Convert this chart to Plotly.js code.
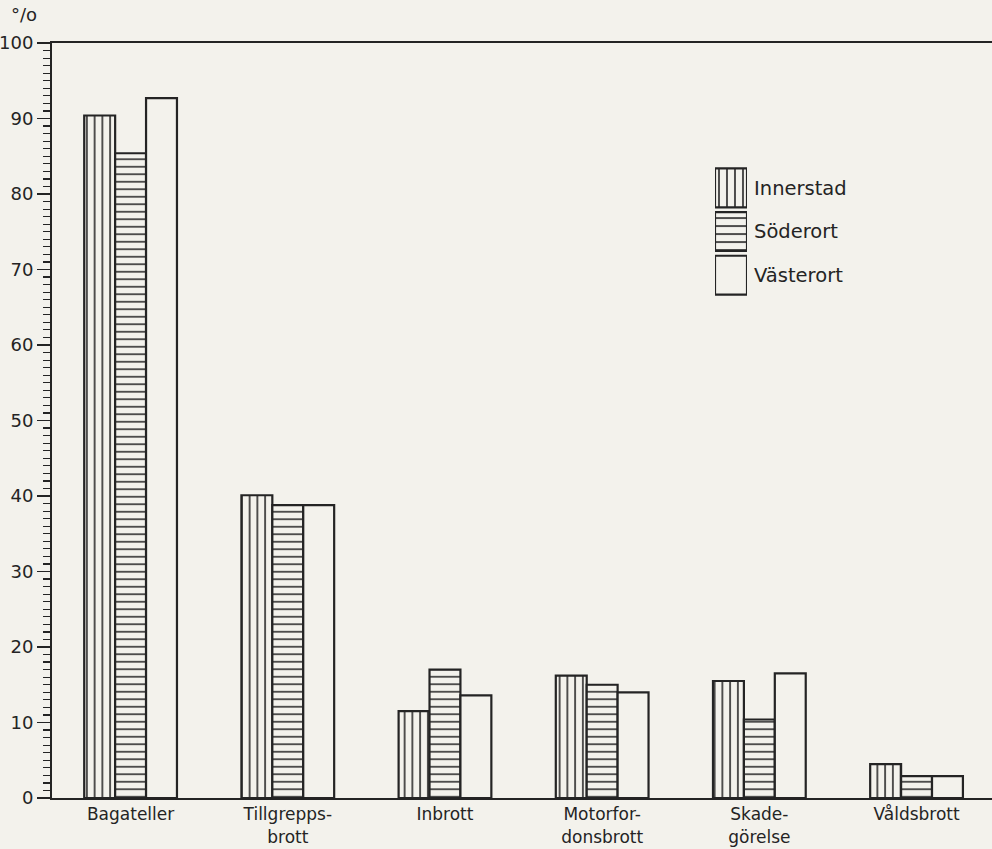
<!DOCTYPE html>
<html>
<head>
<meta charset="utf-8">
<script src="https://cdn.plot.ly/plotly-3.0.1.min.js"></script>
<style>
  html, body { margin: 0; padding: 0; background: #f3f2ec; }
  #chart { width: 992px; height: 849px; }
</style>
</head>
<body>
<div id="chart"></div>
<script>
const categories = ["Bagateller", "Tillgrepps-<br>brott", "Inbrott", "Motorfor-<br>donsbrott", "Skade-<br>görelse", "Våldsbrott"];
const seriesNames = ["Innerstad", "Söderort", "Västerort"];
const innerstad = [90.4, 40.1, 11.5, 16.2, 15.5, 4.5];
const soderort  = [85.4, 38.8, 17.0, 15.0, 10.4, 2.9];
const vasterort = [92.7, 38.8, 13.6, 14.0, 16.5, 2.9];
const yTickVals = [0, 10, 20, 30, 40, 50, 60, 70, 80, 90, 100];

const BG = "#f3f2ec";
const INK = "#242424";
const FONT = "DejaVu Sans, sans-serif";

const shapes = ["|", "-", ""];
const sizes = [7.75, 7.5, 8];
const values = [innerstad, soderort, vasterort];

function pat(i) {
  return {shape: shapes[i], size: sizes[i], solidity: 0.2, fgcolor: INK, bgcolor: BG, fillmode: "replace"};
}

const traces = values.map((v, i) => ({
  type: "bar",
  name: seriesNames[i],
  x: categories,
  y: v,
  xaxis: "x", yaxis: "y",
  marker: {color: BG, line: {color: INK, width: 2.2}, pattern: pat(i)},
  showlegend: false,
  hoverinfo: "skip"
}));

// legend drawn as a small horizontal bar panel, labelled with the series names
traces.push({
  type: "bar",
  orientation: "h",
  y: seriesNames,
  x: seriesNames.map(() => 1),
  width: 0.89,
  xaxis: "x2", yaxis: "y2",
  marker: {
    color: BG,
    line: {color: INK, width: 2.2},
    pattern: {
      shape: shapes,
      size: 8,
      solidity: 0.2,
      fgcolor: INK, bgcolor: BG, fillmode: "replace"
    }
  },
  showlegend: false,
  hoverinfo: "skip"
});

const layout = {
  width: 992,
  height: 849,
  paper_bgcolor: BG,
  plot_bgcolor: BG,
  margin: {l: 52, r: 0, t: 43, b: 51},
  barmode: "group",
  bargap: 0.41,
  bargroupgap: 0,
  font: {family: FONT, color: INK, size: 17},
  showlegend: false,
  xaxis: {
    type: "category",
    range: [-0.5, 5.48],
    showline: true, linecolor: INK, linewidth: 2, mirror: true,
    ticks: "", showgrid: false, zeroline: false,
    tickfont: {family: FONT, size: 17, color: INK},
    ticklabelstandoff: 0,
    automargin: false
  },
  yaxis: {
    range: [0, 100],
    tickvals: yTickVals,
    ticks: "outside", ticklen: 13, tickwidth: 1.5, tickcolor: INK,
    minor: {dtick: 1, ticks: "outside", ticklen: 7, tickwidth: 1.2, tickcolor: INK, showgrid: false},
    showline: true, linecolor: INK, linewidth: 2,
    showgrid: false, zeroline: false,
    tickfont: {family: FONT, size: 18, color: INK},
    automargin: false
  },
  xaxis2: {
    domain: [0.7053, 0.7394],
    range: [0, 1],
    anchor: "y2",
    visible: false,
    fixedrange: true
  },
  yaxis2: {
    domain: [0.6636, 0.837],
    type: "category",
    range: [2.5, -0.5],
    anchor: "x2",
    side: "right",
    ticks: "",
    showline: false, showgrid: false, zeroline: false,
    tickfont: {family: FONT, size: 19.5, color: INK},
    ticklabelstandoff: 6,
    automargin: false
  },
  annotations: [{
    text: "°/o", xref: "paper", yref: "paper", x: -0.03, y: 1.0, yshift: 16,
    xanchor: "center", yanchor: "bottom", showarrow: false,
    font: {family: FONT, size: 18, color: INK}
  }]
};

Plotly.newPlot("chart", traces, layout, {displayModeBar: false, staticPlot: true});
</script>
</body>
</html>
